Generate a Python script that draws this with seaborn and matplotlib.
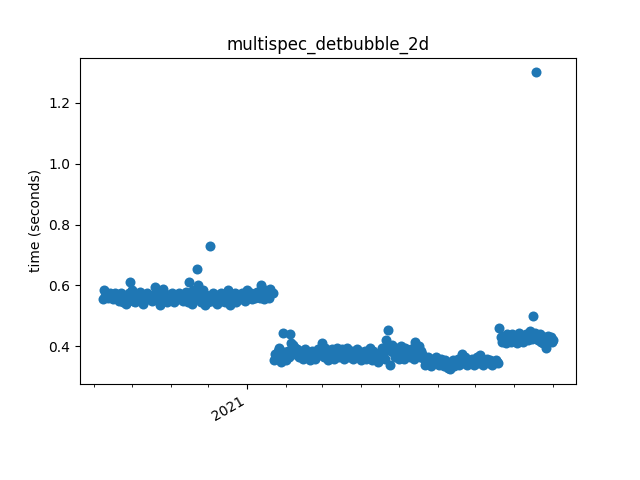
import matplotlib

matplotlib.use("Agg")
import matplotlib.dates as mdates
import matplotlib.pyplot as plt
import pandas as pd
import seaborn as sns

# benchmark timings, one run per day, split into the four visible regimes
seg1_start = "2020-09-08"
seg1_times = [
    0.555, 0.585, 0.565, 0.575, 0.560, 0.570, 0.575, 0.565, 0.555, 0.570,
    0.575, 0.560, 0.565, 0.550, 0.570, 0.575, 0.545, 0.560, 0.555, 0.540,
    0.565, 0.575, 0.610, 0.585, 0.550, 0.560, 0.545, 0.570, 0.555, 0.565,
    0.580, 0.550, 0.540, 0.565, 0.560, 0.575, 0.555, 0.570, 0.560, 0.550,
    0.565, 0.570, 0.595, 0.585, 0.560, 0.555, 0.535, 0.570, 0.590, 0.575,
    0.560, 0.545, 0.555, 0.570, 0.565, 0.575, 0.560, 0.545, 0.570, 0.565,
    0.555, 0.575, 0.560, 0.570, 0.550, 0.565, 0.580, 0.555, 0.545, 0.610,
    0.570, 0.540, 0.585, 0.565, 0.560, 0.655, 0.600, 0.575, 0.545, 0.560,
    0.585, 0.535, 0.570, 0.560, 0.545, 0.730, 0.565, 0.550, 0.575, 0.555,
    0.570, 0.540, 0.565, 0.560, 0.575, 0.550, 0.565, 0.545, 0.560, 0.570,
    0.585, 0.535, 0.555, 0.570, 0.560, 0.575, 0.545, 0.565, 0.570, 0.555,
    0.560, 0.575, 0.565, 0.550, 0.570, 0.585, 0.560, 0.565, 0.575, 0.555,
    0.570, 0.560, 0.565, 0.580, 0.575, 0.560, 0.600, 0.570, 0.555, 0.585,
    0.565, 0.575, 0.560, 0.590, 0.580, 0.575,
]

seg2_start = "2021-01-22"
seg2_times = [
    0.355, 0.375, 0.365, 0.385, 0.395, 0.360, 0.350, 0.445, 0.380, 0.370,
    0.355, 0.385, 0.365, 0.440, 0.410, 0.405, 0.375, 0.395, 0.390, 0.370,
    0.365, 0.385, 0.375, 0.360, 0.380, 0.390, 0.370, 0.365, 0.375, 0.355,
    0.385, 0.375, 0.370, 0.360, 0.380, 0.390, 0.370, 0.385, 0.410, 0.375,
    0.365, 0.395, 0.380, 0.355, 0.370, 0.385, 0.390, 0.375, 0.360, 0.380,
    0.395, 0.370, 0.365, 0.380, 0.390, 0.375, 0.360, 0.385, 0.395, 0.370,
    0.365, 0.375, 0.385, 0.360, 0.370, 0.380, 0.390, 0.375, 0.365, 0.355,
    0.370, 0.380, 0.385, 0.360, 0.375, 0.365, 0.395, 0.380, 0.355, 0.385,
    0.370, 0.360, 0.375, 0.350, 0.365, 0.380, 0.395, 0.375, 0.360, 0.420,
    0.395, 0.455, 0.340, 0.385, 0.405, 0.380, 0.365, 0.395, 0.375, 0.360,
    0.365, 0.400, 0.375, 0.360, 0.395, 0.380, 0.370, 0.385, 0.365, 0.390,
    0.375, 0.360, 0.415, 0.380, 0.370, 0.400, 0.365, 0.385, 0.375, 0.360,
]

seg3_start = "2021-05-22"
seg3_times = [
    0.340, 0.350, 0.365, 0.345, 0.355, 0.335, 0.360, 0.350, 0.345, 0.365,
    0.355, 0.340, 0.350, 0.360, 0.345, 0.335, 0.355, 0.350, 0.330, 0.345,
    0.325, 0.340, 0.355, 0.335, 0.350, 0.345, 0.360, 0.340, 0.355, 0.375,
    0.350, 0.345, 0.365, 0.340, 0.355, 0.350, 0.345, 0.360, 0.355, 0.340,
    0.350, 0.365, 0.345, 0.355, 0.370, 0.350, 0.340, 0.355, 0.345, 0.360,
    0.350, 0.345, 0.355, 0.340, 0.350, 0.345, 0.355, 0.350, 0.345,
]

seg4_start = "2021-07-20"
seg4_times = [
    0.460, 0.430, 0.415, 0.435, 0.420, 0.410, 0.440, 0.425, 0.430, 0.415,
    0.440, 0.420, 0.435, 0.425, 0.410, 0.430, 0.445, 0.420, 0.435, 0.415,
    0.425, 0.440, 0.430, 0.420, 0.450, 0.435, 0.425, 0.500, 0.445, 1.300,
    0.430, 0.420, 0.440, 0.415, 0.425, 0.410, 0.430, 0.395, 0.420, 0.435,
    0.425, 0.430, 0.415, 0.420,
]

frames = []
for start, times in [(seg1_start, seg1_times), (seg2_start, seg2_times),
                     (seg3_start, seg3_times), (seg4_start, seg4_times)]:
    frames.append(pd.DataFrame({
        "date": pd.date_range(start, periods=len(times), freq="D"),
        "time": times,
    }))
df = pd.concat(frames, ignore_index=True)

fig, ax = plt.subplots(figsize=(6.4, 4.8), dpi=100)
sns.scatterplot(data=df, x="date", y="time", ax=ax, color="#1f77b4",
                s=52, linewidth=0)
ax.set_title("multispec_detbubble_2d")
ax.set_xlabel("")
ax.set_ylabel("time (seconds)")
ax.xaxis.set_major_locator(mdates.YearLocator())
ax.xaxis.set_major_formatter(mdates.DateFormatter("%Y"))
ax.xaxis.set_minor_locator(mdates.MonthLocator())
fig.autofmt_xdate()
fig.savefig("out.png", dpi=100)
plt.close(fig)
